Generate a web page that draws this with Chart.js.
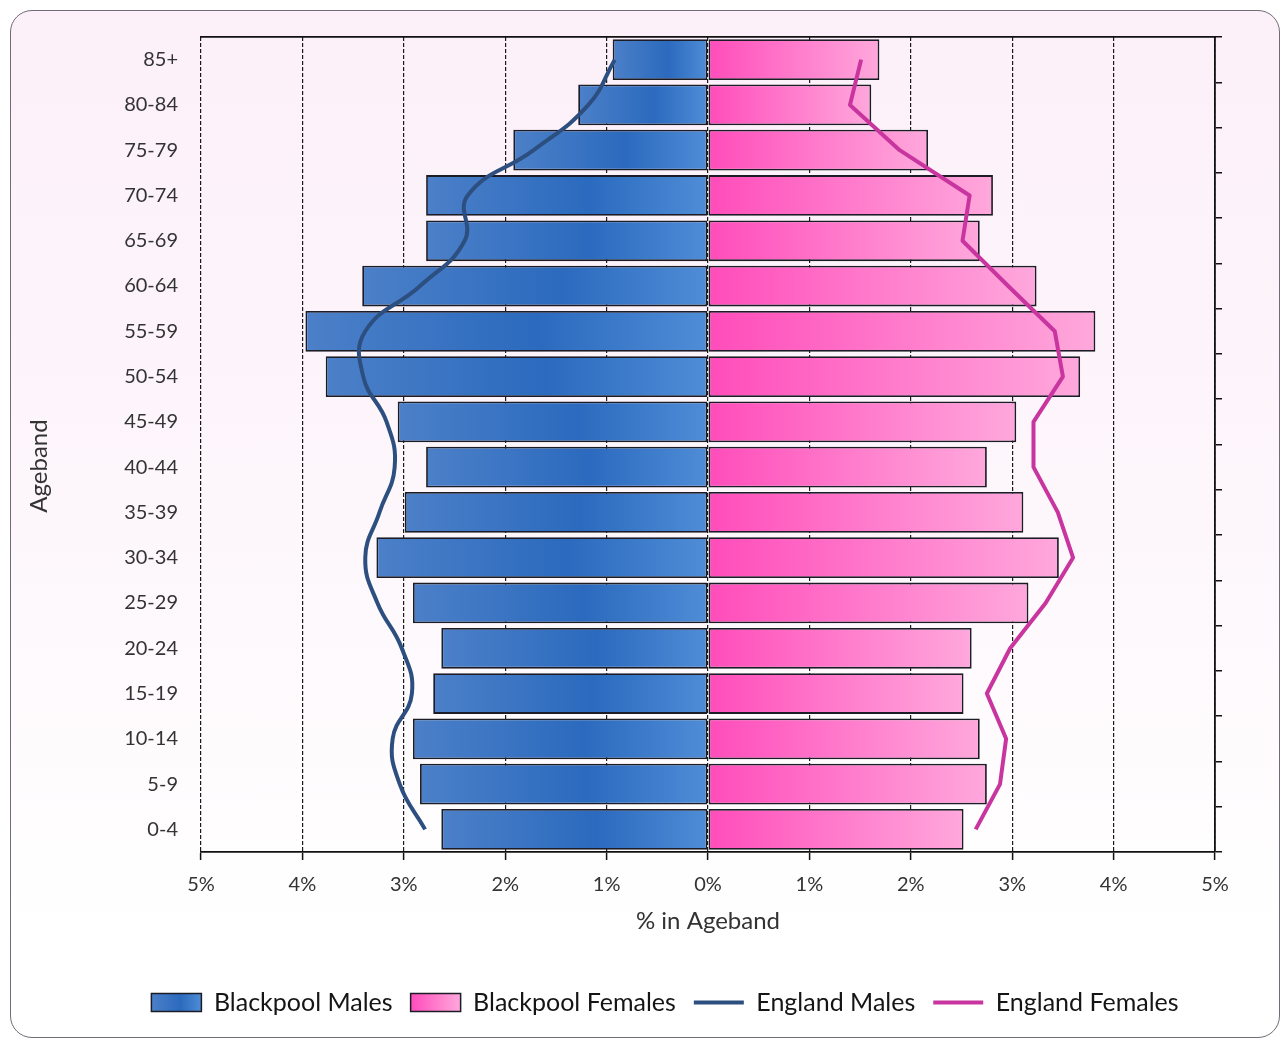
<!DOCTYPE html>
<html>
<head>
<meta charset="utf-8">
<title>Blackpool population pyramid</title>
<script src="https://cdn.jsdelivr.net/npm/chart.js@4/dist/chart.umd.min.js"></script>
<style>
  html, body { margin: 0; padding: 0; background: #ffffff; }
  #wrap { position: relative; width: 1284px; height: 1041px; overflow: hidden; }
  #frame {
    position: absolute; left: 10px; top: 10px; width: 1270px; height: 1028px;
    box-sizing: border-box; border: 1.5px solid #716a77; border-radius: 22px;
    background: linear-gradient(#fcf0f9 0%, #fdf6fb 45%, #ffffff 90%);
  }
  #pyramid { position: absolute; left: 0; top: 0; }
</style>
</head>
<body>
<div id="wrap">
  <div id="frame"></div>
  <canvas id="pyramid" width="1284" height="1041"></canvas>
</div>
<script>
// Age bands, oldest first so 85+ sits at the top of the pyramid
const AGE_BANDS = ['85+', '80-84', '75-79', '70-74', '65-69', '60-64', '55-59', '50-54', '45-49',
                   '40-44', '35-39', '30-34', '25-29', '20-24', '15-19', '10-14', '5-9', '0-4'];

// Share of the total population in each band (%)
const BLACKPOOL_MALES   = [0.94, 1.28, 1.92, 2.78, 2.78, 3.41, 3.97, 3.77, 3.06,
                           2.78, 2.99, 3.27, 2.91, 2.63, 2.71, 2.91, 2.84, 2.63];
const BLACKPOOL_FEMALES = [1.69, 1.61, 2.17, 2.81, 2.68, 3.24, 3.82, 3.67, 3.04,
                           2.75, 3.11, 3.46, 3.16, 2.60, 2.52, 2.68, 2.75, 2.52];
const ENGLAND_MALES     = [0.92, 1.18, 1.72, 2.37, 2.40, 2.84, 3.38, 3.40, 3.17,
                           3.09, 3.24, 3.38, 3.26, 3.02, 2.92, 3.11, 3.04, 2.79];
const ENGLAND_FEMALES   = [1.51, 1.40, 1.89, 2.58, 2.51, 2.96, 3.42, 3.50, 3.21,
                           3.21, 3.45, 3.60, 3.33, 2.98, 2.75, 2.94, 2.88, 2.64];

// Axis range and tick step (%)
const X_LIMIT = 5;
const X_STEP = 1;

const SERIES_NAMES = ['Blackpool Males', 'Blackpool Females', 'England Males', 'England Females'];
const X_TITLE = '% in Ageband';
const Y_TITLE = 'Ageband';

// Bar shading: blue darkens towards the middle, pink fades from the centre line outwards
const MALE_STOPS   = [[0, '#4c80c8'], [0.58, '#2b6abe'], [1, '#4f8dd7']];
const FEMALE_STOPS = [[0, '#ff4cba'], [0.55, '#ff7fcd'], [1, '#ffa8dc']];
const BAR_EDGE = '#1c1c26';
const ENG_MALE_COLOUR = '#2c4f80';
const ENG_FEMALE_COLOUR = '#c9359f';
const LEGEND_CENTRE = 665;

Chart.defaults.font.family = 'Lato, "Noto Sans", sans-serif';
Chart.defaults.color = '#333333';

function gradientBetween(chart, v0, v1, stops) {
  const x = chart.scales.x;
  const g = chart.ctx.createLinearGradient(x.getPixelForValue(v0), 0, x.getPixelForValue(v1), 0);
  stops.forEach(([o, c]) => g.addColorStop(o, c));
  return g;
}

function maleFill(ctx) {
  const chart = ctx.chart;
  if (!chart.chartArea || ctx.type !== 'data') return MALE_STOPS[1][1];
  return gradientBetween(chart, ctx.raw, 0, MALE_STOPS);
}

function femaleFill(ctx) {
  const chart = ctx.chart;
  if (!chart.chartArea || ctx.type !== 'data') return FEMALE_STOPS[0][1];
  return gradientBetween(chart, 0, ctx.raw, FEMALE_STOPS);
}

const LEGEND_STOPS = [MALE_STOPS, FEMALE_STOPS, null, null];

// Centres the legend row and gives its swatches the same shading as the bars
const legendStyling = {
  id: 'legendStyling',
  afterLayout(chart) {
    const lg = chart.legend;
    if (!lg) return;
    const shift = LEGEND_CENTRE - (lg.left + lg.right) / 2;
    lg.left += shift;
    lg.right += shift;
  },
  beforeDraw(chart) {
    const lg = chart.legend;
    if (!lg || !lg.legendItems) return;
    const bw = lg.options.labels.pointStyleWidth;
    lg.legendItems.forEach((item, i) => {
      const stops = LEGEND_STOPS[item.datasetIndex];
      const hb = lg.legendHitBoxes[i];
      if (!stops || !hb) return;
      const g = chart.ctx.createLinearGradient(hb.left, 0, hb.left + bw, 0);
      stops.forEach(([o, c]) => g.addColorStop(o, c));
      item.fillStyle = g;
    });
  }
};

const barCommon = {
  borderColor: BAR_EDGE,
  borderWidth: 1.8,
  borderSkipped: false,
  grouped: false,
  barPercentage: 0.9,
  categoryPercentage: 1,
  order: 1
};

new Chart(document.getElementById('pyramid'), {
  type: 'bar',
  data: {
    labels: AGE_BANDS,
    datasets: [
      Object.assign({ label: SERIES_NAMES[0], data: BLACKPOOL_MALES.map(v => -v), backgroundColor: maleFill }, barCommon),
      Object.assign({ label: SERIES_NAMES[1], data: BLACKPOOL_FEMALES, backgroundColor: femaleFill }, barCommon),
      {
        type: 'line', label: SERIES_NAMES[2], indexAxis: 'y',
        data: ENGLAND_MALES.map(v => -v),
        borderColor: ENG_MALE_COLOUR, borderWidth: 4, tension: 0.45,
        pointRadius: 0, fill: false, order: 0
      },
      {
        type: 'line', label: SERIES_NAMES[3], indexAxis: 'y',
        data: ENGLAND_FEMALES,
        borderColor: ENG_FEMALE_COLOUR, borderWidth: 4, tension: 0,
        borderJoinStyle: 'round', pointRadius: 0, fill: false, order: 0
      }
    ]
  },
  options: {
    indexAxis: 'y',
    responsive: false,
    animation: false,
    devicePixelRatio: 1,
    layout: { padding: { left: 25, right: 59, top: 37, bottom: 16 } },
    plugins: {
      tooltip: { enabled: false },
      legend: {
        position: 'bottom',
        labels: {
          usePointStyle: true,
          pointStyleWidth: 50,
          boxWidth: 50,
          boxHeight: 18,
          padding: 18,
          color: '#151515',
          font: { size: 25 },
          generateLabels(chart) {
            return chart.data.datasets.map((ds, i) => {
              const isLine = ds.type === 'line';
              return {
                text: ds.label,
                datasetIndex: i,
                fillStyle: isLine ? ds.borderColor : MALE_STOPS[1][1],
                strokeStyle: isLine ? ds.borderColor : BAR_EDGE,
                lineWidth: isLine ? 4 : 1.5,
                lineCap: 'butt',
                pointStyle: isLine ? 'line' : 'rect',
                fontColor: '#151515',
                hidden: false
              };
            });
          }
        }
      }
    },
    scales: {
      x: {
        type: 'linear',
        min: -X_LIMIT, max: X_LIMIT,
        ticks: {
          stepSize: X_STEP,
          padding: 13,
          color: '#333333',
          font: { size: 20 },
          callback: v => Math.abs(v) + '%'
        },
        grid: { color: '#1a1a1a', lineWidth: 1.2, tickLength: 8, tickColor: '#111111', tickWidth: 1.5 },
        border: { display: true, color: '#111111', width: 1.8, dash: [4, 2] },
        title: {
          display: true, text: X_TITLE, color: '#333333',
          font: { size: 24 }, padding: { top: 0, bottom: 36 }
        },
        afterFit(scale) { scale.height = 120; }
      },
      xTop: {
        type: 'linear', position: 'top', min: -X_LIMIT, max: X_LIMIT,
        grid: { display: false },
        ticks: { display: false },
        border: { display: true, color: '#111111', width: 1.8 },
        afterFit(scale) { scale.height = 0; }
      },
      y: {
        type: 'category',
        grid: { display: false, drawTicks: false },
        border: { display: false },
        ticks: { padding: 23, color: '#333333', font: { size: 20 } },
        title: {
          display: true, text: Y_TITLE + '\u00a0'.repeat(7), color: '#333333',
          font: { size: 24 }, padding: { top: 0, bottom: 0 }
        },
        afterFit(scale) { scale.width = 176; }
      },
      yRight: {
        type: 'category', position: 'right', labels: AGE_BANDS, offset: true,
        grid: { offset: true, drawOnChartArea: false, tickLength: 7, color: '#111111', lineWidth: 1.5 },
        ticks: { display: false },
        border: { display: true, color: '#111111', width: 1.8 },
        afterFit(scale) { scale.width = 10; }
      }
    }
  },
  plugins: [legendStyling]
});
</script>
</body>
</html>
